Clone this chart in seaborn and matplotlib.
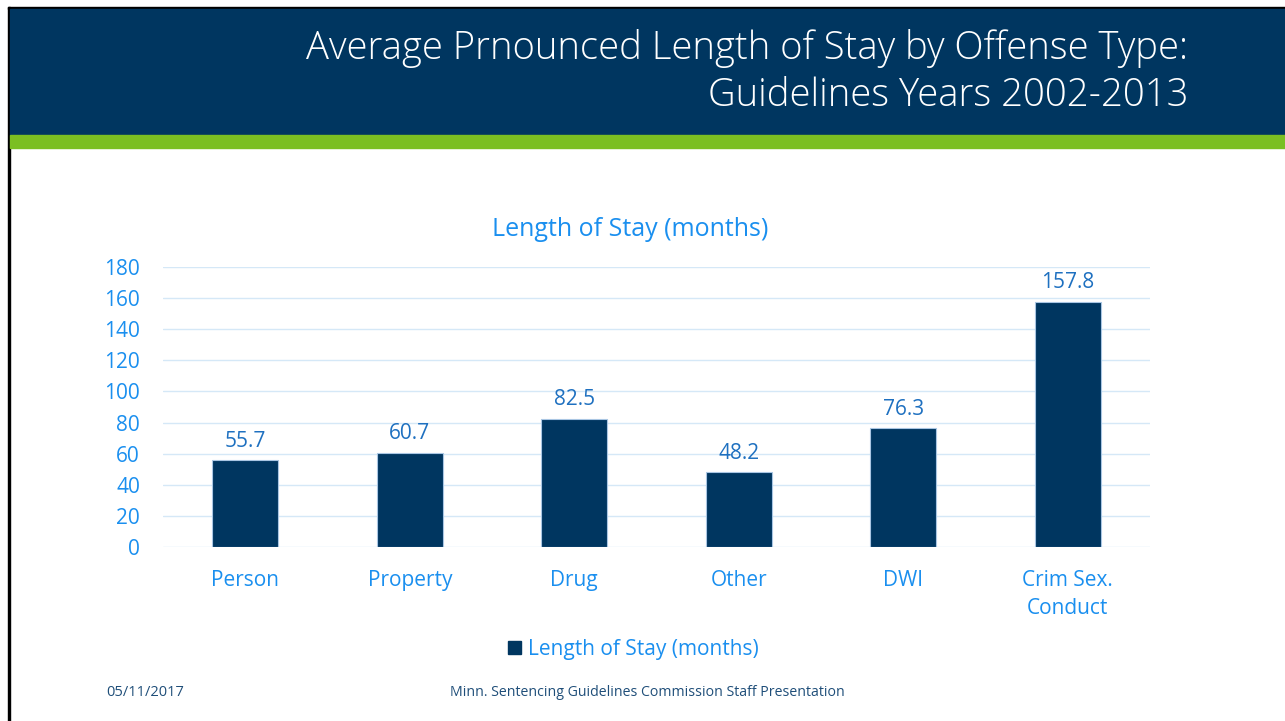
import matplotlib
matplotlib.use("Agg")
import matplotlib.pyplot as plt
import seaborn as sns
import pandas as pd
from matplotlib.patches import Rectangle

categories = ["Person", "Property", "Drug", "Other", "DWI", "Crim Sex.\nConduct"]
stay_months = [55.7, 60.7, 82.5, 48.2, 76.3, 157.8]
y_ticks = [0, 20, 40, 60, 80, 100, 120, 140, 160, 180]

NAVY = "#003660"
GREEN = "#7BBF22"
BLUE = "#1A8FEF"
LABEL_BLUE = "#1E70C0"
GRID = "#D5E8F7"
FOOT = "#1F4E79"

sns.set_theme(style="white")
plt.rcParams["font.family"] = ["Open Sans", "DejaVu Sans"]

df = pd.DataFrame({"Offense": categories, "Months": stay_months})

fig = plt.figure(figsize=(12.85, 7.21), dpi=100)

# slide chrome: black frame, navy header, green stripe
fig.patches.append(Rectangle((8 / 1285, 0), 2 / 1285, 1 - 7 / 721, transform=fig.transFigure,
                             color="black", zorder=0))
fig.patches.append(Rectangle((8 / 1285, 1 - 9 / 721), 1, 2 / 721, transform=fig.transFigure,
                             color="black", zorder=0))
fig.patches.append(Rectangle((10 / 1285, 1 - 135 / 721), 1, 126 / 721, transform=fig.transFigure,
                             color=NAVY, zorder=0))
fig.patches.append(Rectangle((10 / 1285, 1 - 148 / 721), 1, 13 / 721, transform=fig.transFigure,
                             color=GREEN, zorder=0))

fig.text(1188 / 1285, 1 - 49 / 721, "Average Prnounced Length of Stay by Offense Type:",
         ha="right", va="center", color="white", fontsize=27.5, fontweight="light")
fig.text(1188 / 1285, 1 - 96 / 721, "Guidelines Years 2002-2013",
         ha="right", va="center", color="white", fontsize=27.5, fontweight="light")

ax = fig.add_axes([163 / 1285, 1 - 547 / 721, 987 / 1285, 280 / 721])
sns.barplot(data=df, x="Offense", y="Months", color=NAVY, width=0.4, saturation=1,
            edgecolor="#A9C6E3", linewidth=0.8, ax=ax)

ax.set_ylim(0, 180)
ax.set_xlim(-0.5, len(categories) - 0.5)
ax.set_yticks(y_ticks)
ax.yaxis.grid(True, color=GRID, linewidth=1)
ax.set_axisbelow(True)
for s in ax.spines.values():
    s.set_visible(False)
ax.tick_params(axis="y", colors=BLUE, labelsize=15, length=0, pad=16.5)
ax.tick_params(axis="x", colors=BLUE, labelsize=15, length=0, pad=16.5)
for lbl in ax.get_xticklabels():
    lbl.set_linespacing(1.45)
ax.set_xlabel("")
ax.set_ylabel("")

for cont in ax.containers:
    ax.bar_label(cont, fmt="%.1f", padding=6, color=LABEL_BLUE, fontsize=15)

fig.text(630 / 1285, 1 - 229 / 721, "Length of Stay (months)", ha="center", va="center",
         color=BLUE, fontsize=18)

# legend
fig.patches.append(Rectangle((508 / 1285, 1 - 654 / 721), 13 / 1285, 13 / 721,
                             transform=fig.transFigure, color=NAVY))
fig.text(528 / 1285, 1 - 650 / 721, "Length of Stay (months)", ha="left", va="center",
         color=BLUE, fontsize=15)

fig.text(106 / 1285, 1 - 693 / 721, "05/11/2017", ha="left", va="center", color=FOOT, fontsize=10.5)
fig.text(647 / 1285, 1 - 693 / 721, "Minn. Sentencing Guidelines Commission Staff Presentation",
         ha="center", va="center", color=FOOT, fontsize=10.2)

fig.savefig("out.png", dpi=100)
